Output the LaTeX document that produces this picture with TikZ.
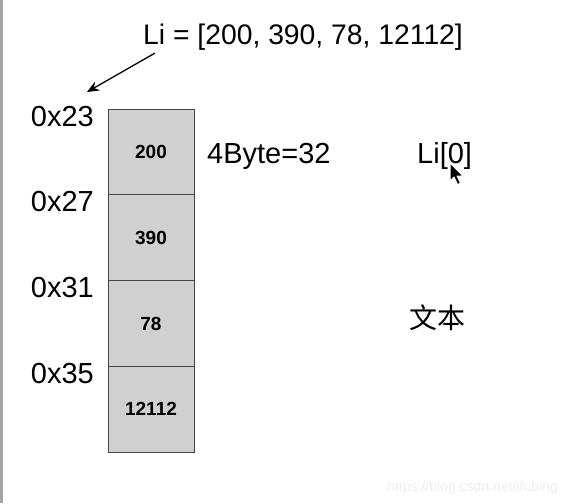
\documentclass[tikz,border=0pt]{standalone}
\usepackage{fontspec}
\setmainfont{Liberation Sans}
\newfontfamily\cjkfont{Noto Sans CJK SC}
\usepackage{tikz}
\usetikzlibrary{
  arrows.meta,
  positioning
}
\definecolor{cellgray}{RGB}{208,208,208}
\definecolor{edgegray}{RGB}{70,70,70}

\begin{document}
\begin{tikzpicture}[x=1pt, y=-1pt,
  cell/.style={rectangle, draw=edgegray, fill=cellgray, line width=1pt, minimum width=86pt, minimum height=85.75pt, outer sep=0pt, inner sep=0pt, font=\fontsize{19}{22}\selectfont\bfseries},
  addr/.style={anchor=base east, inner sep=0pt, font=\fontsize{29}{34}\selectfont},
  big/.style={inner sep=0pt, font=\fontsize{29}{34}\selectfont},
  cjk/.style={inner sep=0pt, font=\cjkfont\fontsize{28}{32}\selectfont},
  ptr/.style={-{Stealth[length=12pt, width=10pt]}, line width=1.3pt}
]
  \useasboundingbox (0,0) rectangle (567,503);
  \draw[gray!70, line width=3pt] (1.5,0) -- (1.5,503);

  \node[big, anchor=base west, font=\fontsize{28.3}{32}\selectfont] (title) at (143,45) {Li = [200, 390, 78, 12112]};
  \coordinate (head) at (87,92);
  \draw[ptr] ([xshift=12pt, yshift=-2pt]title.south west) -- (head);

  % the list in memory
  \node[cell] (c1) at (151,152) {200};
  \node[cell, below=0pt of c1] (c2) {390};
  \node[cell, below=0pt of c2] (c3) {78};
  \node[cell, below=0pt of c3] (c4) {12112};

  \node[addr] (a1) at ([xshift=-14pt, yshift=-17pt]c1.north west) {0x23};
  \node[addr] (a2) at ([xshift=-14pt, yshift=-17pt]c2.north west) {0x27};
  \node[addr] (a3) at ([xshift=-14pt, yshift=-17pt]c3.north west) {0x31};
  \node[addr] (a4) at ([xshift=-14pt, yshift=-17pt]c4.north west) {0x35};

  \node[big, anchor=base west] (size) at (207,163) {4Byte=32};
  \node[big, anchor=base west] (index) at (417,163) {Li[0]};
  \node[cjk] (txt) at (437,318) {文本};

  % mouse pointer
  \draw[fill=black, draw=white, line width=1pt, line join=round] (450,163) -- ++(0,18) -- ++(4,-4) -- ++(3.5,7.5) -- ++(3,-1.3) -- ++(-3.5,-7.2) -- ++(6,0) -- cycle;

  \node[anchor=base east, inner sep=0pt, text=black!7, font=\fontsize{14}{16}\selectfont] (mark) at (558,491) {https://blog.csdn.net/ifubing};
\end{tikzpicture}
\end{document}
